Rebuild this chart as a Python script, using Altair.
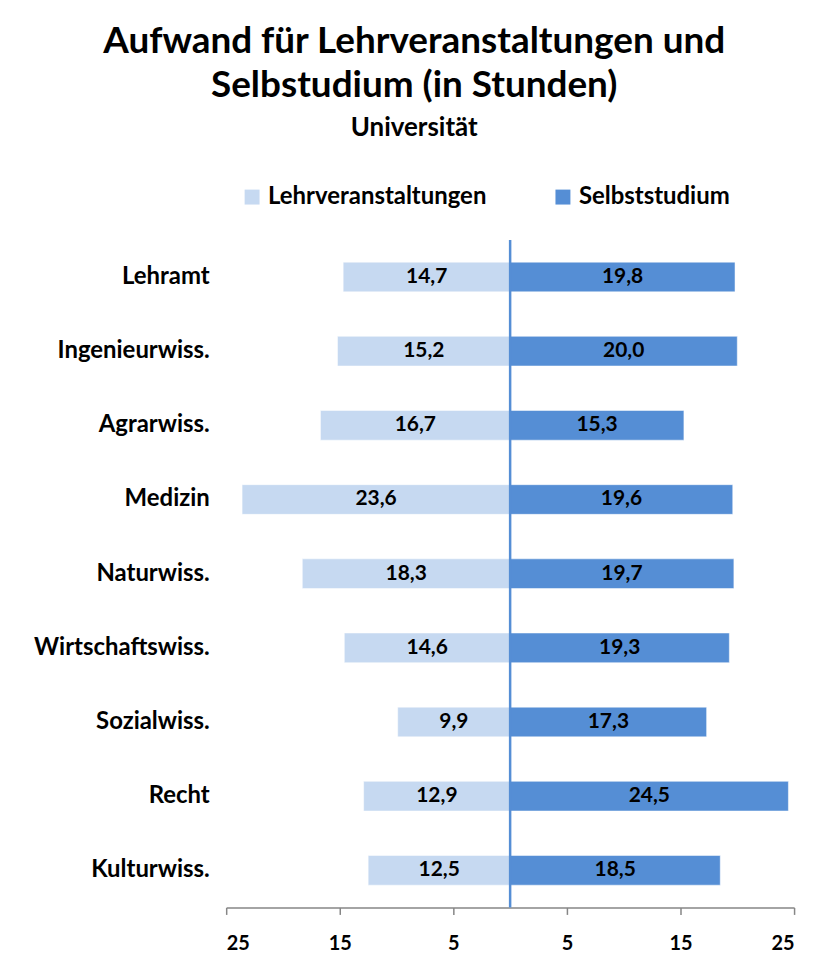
import altair as alt
import pandas as pd

categories = ["Lehramt", "Ingenieurwiss.", "Agrarwiss.", "Medizin", "Naturwiss.",
              "Wirtschaftswiss.", "Sozialwiss.", "Recht", "Kulturwiss."]
lehrveranstaltungen = [14.7, 15.2, 16.7, 23.6, 18.3, 14.6, 9.9, 12.9, 12.5]
selbststudium = [19.8, 20.0, 15.3, 19.6, 19.7, 19.3, 17.3, 24.5, 18.5]
series_names = ["Lehrveranstaltungen", "Selbststudium"]
series_colors = ["#c6d9f1", "#558ed5"]
tick_values = [-25, -15, -5, 5, 15, 25]

rows = []
for c, l, s in zip(categories, lehrveranstaltungen, selbststudium):
    rows.append({"cat": c, "series": series_names[0], "value": -l, "mid": -l / 2,
                 "label": f"{l:.1f}".replace(".", ",")})
    rows.append({"cat": c, "series": series_names[1], "value": s, "mid": s / 2,
                 "label": f"{s:.1f}".replace(".", ",")})
df = pd.DataFrame(rows)

FONT = "Lato"

xscale = alt.Scale(domain=[-25, 25], nice=False, zero=False)
yscale = alt.Scale(domain=categories, paddingInner=0.6, paddingOuter=0.3)

base = alt.Chart(df)

bars = base.mark_bar(stroke="white", strokeWidth=0.5).encode(
    x=alt.X("value:Q", scale=xscale, title=None,
            axis=alt.Axis(values=tick_values, labelExpr="abs(datum.value)", grid=False,
                          domainColor="#868686", tickColor="#868686", tickSize=7,
                          domainWidth=1.5, tickWidth=1.5,
                          labelFont=FONT, labelFontSize=20, labelFontWeight="bold",
                          labelColor="black", labelPadding=19)),
    y=alt.Y("cat:N", scale=yscale, sort=categories, title=None,
            axis=alt.Axis(domain=False, ticks=False, labelFont=FONT, labelFontSize=24,
                          labelFontWeight="bold", labelColor="black", labelPadding=17,
                          labelLimit=0)),
    color=alt.Color("series:N", scale=alt.Scale(domain=series_names, range=series_colors),
                    legend=alt.Legend(title=None, orient="none", direction="horizontal",
                                      legendX=14, legendY=-55, symbolType="square",
                                      symbolSize=225, symbolStrokeWidth=0,
                                      symbolOpacity=1, labelLimit=0,
                                      labelFont=FONT, labelFontSize=24,
                                      labelFontWeight="bold", labelColor="black",
                                      columnPadding=64, labelOffset=4)),
)

texts = base.mark_text(font=FONT, fontSize=21, fontWeight="bold", color="black").encode(
    x=alt.X("mid:Q", scale=xscale),
    y=alt.Y("cat:N", scale=yscale, sort=categories),
    text="label:N",
)

center = alt.Chart(pd.DataFrame({"z": [0]})).mark_rule(color="#558ed5", strokeWidth=2.5).encode(
    x=alt.X("z:Q", scale=xscale),
)

chart = alt.layer(bars, texts, center).properties(
    width=570, height=670,
    title=alt.TitleParams(
        text=["Aufwand für Lehrveranstaltungen und", "Selbstudium (in Stunden)"],
        subtitle="Universität",
        font=FONT, fontSize=37, fontWeight="bold", color="black", lineHeight=45,
        subtitleFont=FONT, subtitleFontSize=26, subtitleFontWeight="bold",
        subtitleColor="black", subtitlePadding=10,
        anchor="middle", frame="bounds", offset=43,
    ),
    padding={"left": 25, "top": 13, "right": 20, "bottom": 10},
).configure(background="white").configure_view(stroke=None, strokeWidth=0)

chart.save("out.html", embed_options={"renderer": "svg", "actions": False})
